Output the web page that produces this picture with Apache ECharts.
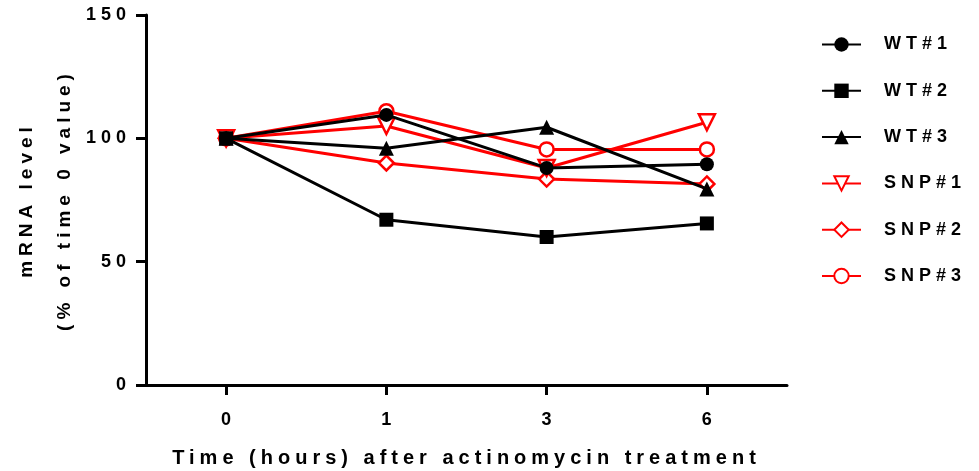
<!DOCTYPE html>
<html>
<head>
<meta charset="utf-8">
<script src="https://cdn.jsdelivr.net/npm/echarts@6/dist/echarts.min.js"></script>
<style>
html,body{margin:0;padding:0;background:#fff;}
#chart{width:979px;height:471px;}
</style>
</head>
<body>
<div id="chart"></div>
<script>
// ---- data ----
var categories = ['0', '1', '3', '6'];
var seriesNames = ['WT#1', 'WT#2', 'WT#3', 'SNP#1', 'SNP#2', 'SNP#3'];
var wt1  = [100, 109.5, 88, 89.5];
var wt2  = [100, 67, 60, 65.5];
var wt3  = [100, 96, 104.5, 79.5];
var snp1 = [100, 105, 88, 106.5];
var snp2 = [100, 90, 83.5, 81.5];
var snp3 = [100, 111, 95.5, 95.5];
var yTicks = [0, 50, 100, 150];

// wide letter spacing like the GraphPad original (text stays real text)
(function () {
  var P = window.CanvasRenderingContext2D && CanvasRenderingContext2D.prototype;
  if (!P || !('letterSpacing' in P)) return;
  function setLS(ctx) {
    var m = /(\d+(?:\.\d+)?)px/.exec(ctx.font || '');
    var sz = m ? parseFloat(m[1]) : 12;
    ctx.letterSpacing = (sz >= 16 ? 5 : 0) + 'px';
  }
  var mt = P.measureText, ft = P.fillText, st = P.strokeText;
  P.measureText = function () { setLS(this); return mt.apply(this, arguments); };
  P.fillText = function () { setLS(this); return ft.apply(this, arguments); };
  P.strokeText = function () { setLS(this); return st.apply(this, arguments); };
})();

var FONT = '"Liberation Sans", Arial, sans-serif';
var RED = '#ff0000', BLACK = '#000000';

function mk(name, data, color, symbol, size, hollow, rotate, z) {
  return {
    name: name,
    type: 'line',
    data: data,
    z: z,
    symbol: symbol,
    symbolSize: size,
    symbolRotate: rotate || 0,
    showAllSymbol: true,
    lineStyle: { color: color, width: 3 },
    itemStyle: hollow
      ? { color: '#ffffff', borderColor: color, borderWidth: 2.5 }
      : { color: color, borderColor: color, borderWidth: 0 },
    emphasis: { disabled: true },
    animation: false
  };
}

var chart = echarts.init(document.getElementById('chart'));
chart.setOption({
  backgroundColor: '#ffffff',
  animation: false,
  textStyle: { fontFamily: FONT },
  grid: { left: 146, right: 192, top: 15, bottom: 86, containLabel: false, outerBoundsMode: 'none' },
  legend: {
    data: seriesNames,
    orient: 'vertical',
    left: 816,
    top: 28,
    itemWidth: 39,
    itemHeight: 18,
    itemGap: 23.3,
    selectedMode: false,
    textStyle: { fontFamily: FONT, fontWeight: 'bold', fontSize: 18, color: '#000', padding: [0, 0, 0, 18], lineHeight: 18 }
  },
  xAxis: {
    type: 'category',
    data: categories,
    boundaryGap: true,
    name: 'Time (hours) after actinomycin treatment',
    nameLocation: 'middle',
    nameGap: 61,
    nameMoveOverlap: false,
    nameTextStyle: { fontFamily: FONT, fontWeight: 'bold', fontSize: 20, color: '#000' },
    axisLine: { show: true, lineStyle: { color: '#000', width: 3 } },
    axisTick: { show: true, alignWithLabel: true, length: 10, lineStyle: { color: '#000', width: 3 } },
    axisLabel: { margin: 24, padding: [0, 0, 0, 5], fontFamily: FONT, fontWeight: 'bold', fontSize: 18, color: '#000' },
    splitLine: { show: false }
  },
  yAxis: {
    type: 'value',
    min: yTicks[0],
    max: yTicks[yTicks.length - 1],
    interval: yTicks[1] - yTicks[0],
    name: 'mRNA level\n(% of time 0 value)',
    nameLocation: 'middle',
    nameRotate: 90,
    nameGap: 62,
    nameMoveOverlap: false,
    nameTextStyle: { fontFamily: FONT, fontWeight: 'bold', fontSize: 19, color: '#000', lineHeight: 38 },
    axisLine: { show: true, lineStyle: { color: '#000', width: 3 } },
    axisTick: { show: true, length: 10, lineStyle: { color: '#000', width: 3 } },
    axisLabel: { margin: 15, fontFamily: FONT, fontWeight: 'bold', fontSize: 18, color: '#000' },
    splitLine: { show: false }
  },
  series: [
    mk('WT#1', wt1, BLACK, 'circle', 14, false, 0, 5),
    mk('WT#2', wt2, BLACK, 'rect', 14, false, 0, 6),
    mk('WT#3', wt3, BLACK, 'triangle', 15, false, 0, 4),
    mk('SNP#1', snp1, RED, 'triangle', 16, true, 180, 3),
    mk('SNP#2', snp2, RED, 'diamond', 15, true, 0, 2),
    mk('SNP#3', snp3, RED, 'circle', 14, true, 0, 2)
  ]
});
</script>
</body>
</html>
